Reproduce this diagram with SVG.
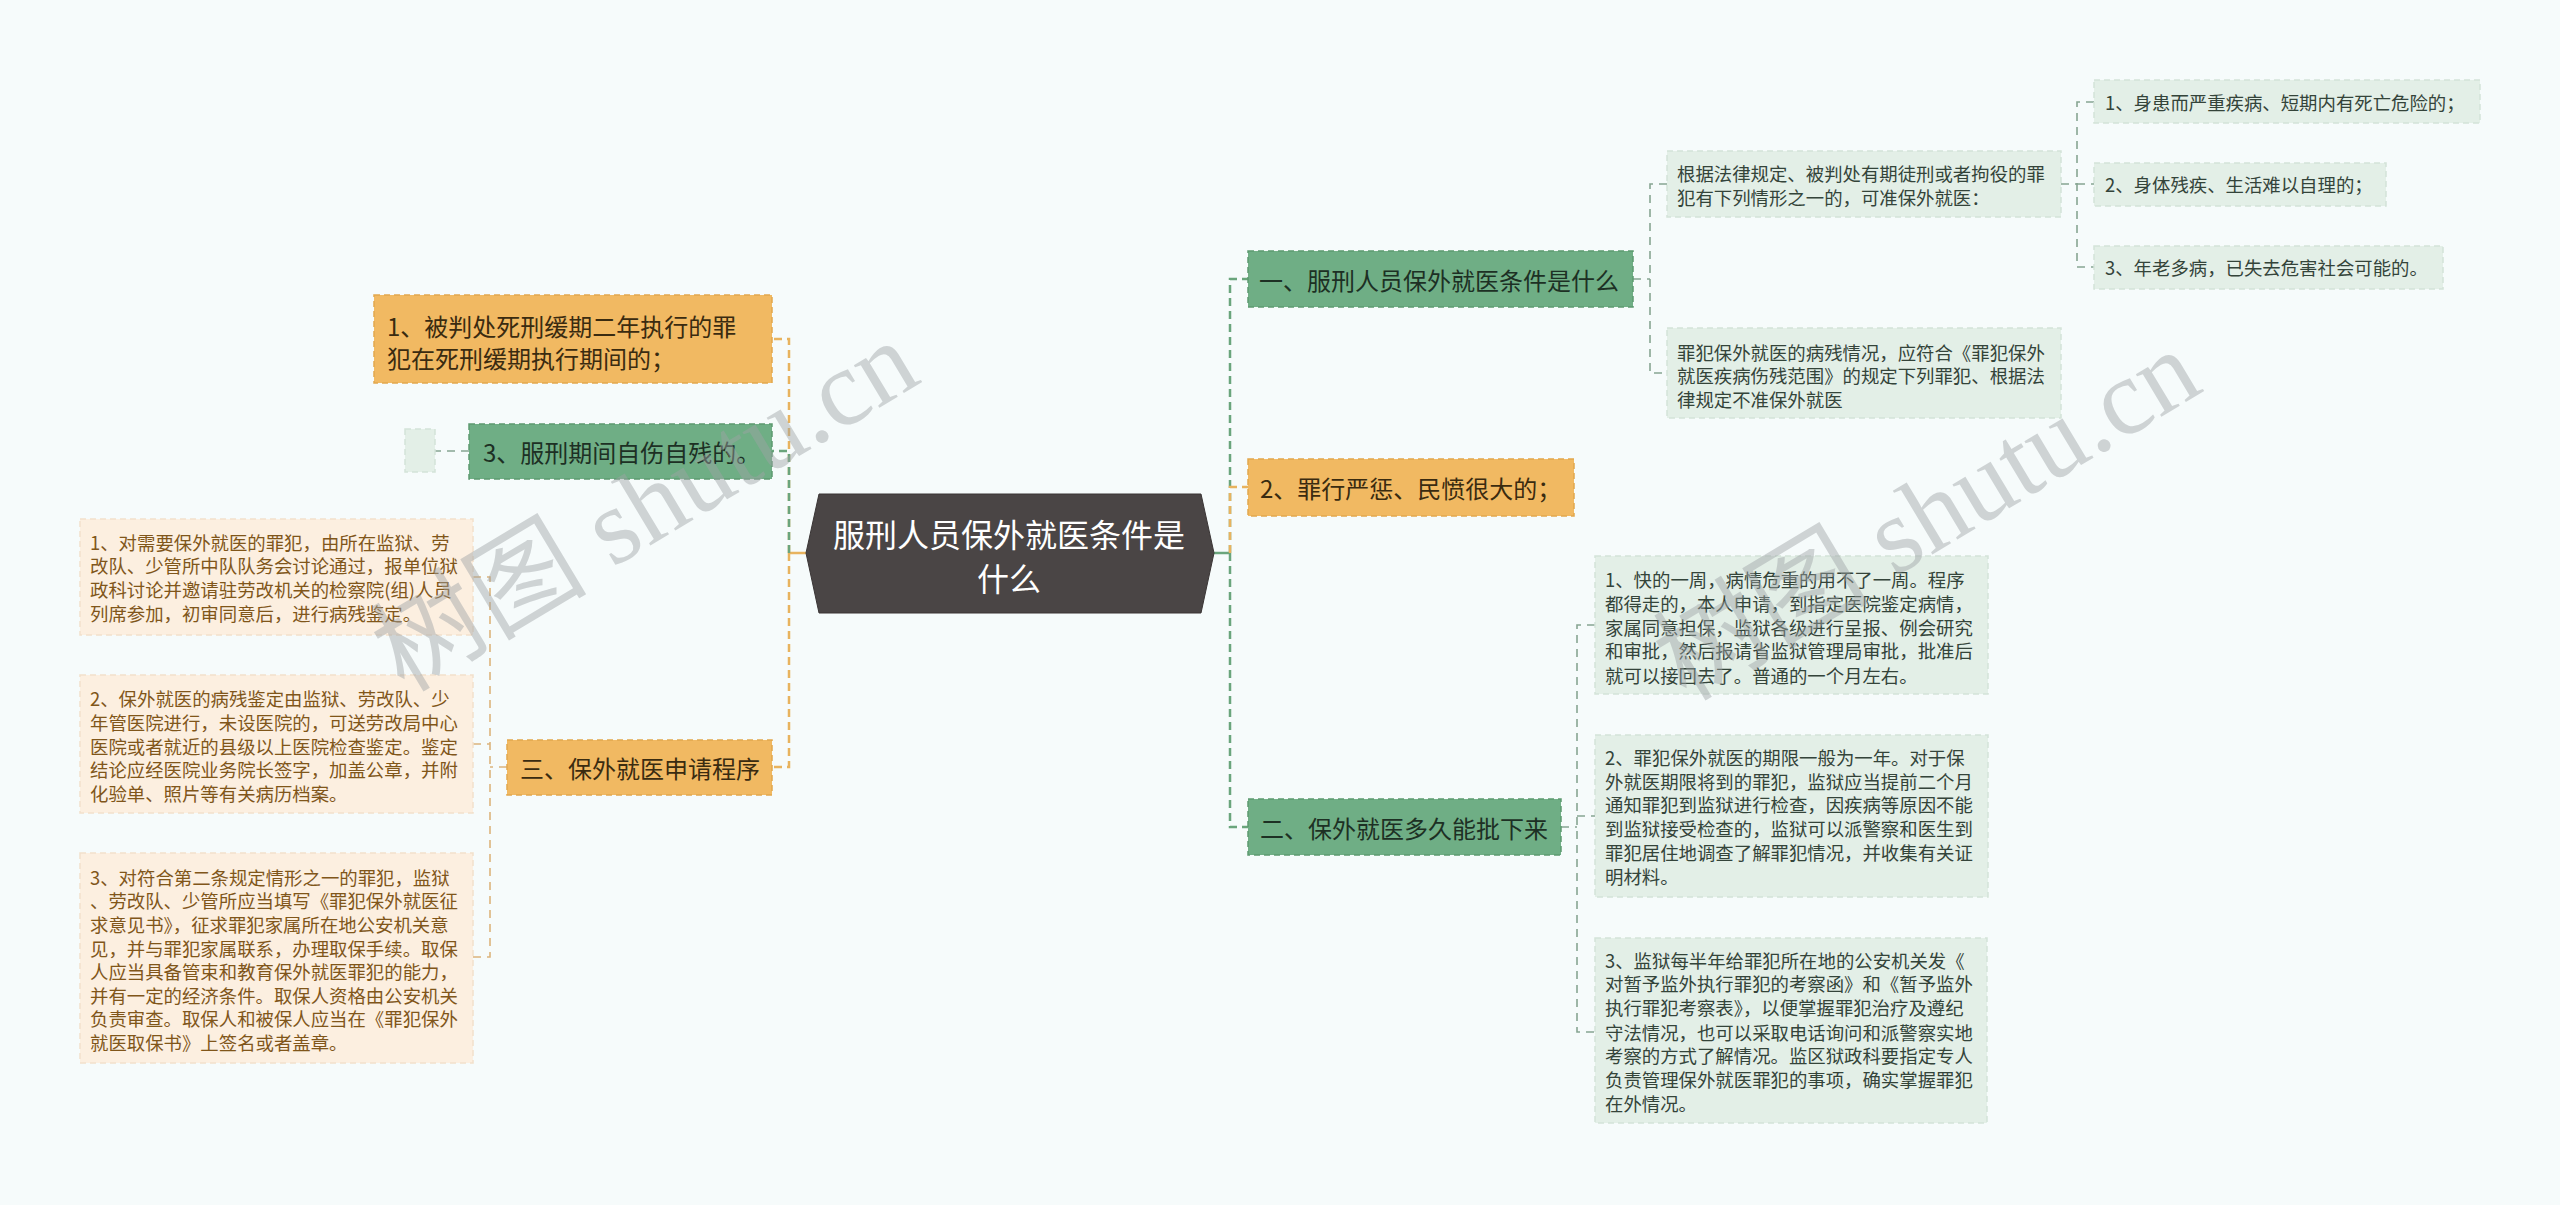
<svg xmlns="http://www.w3.org/2000/svg" width="2560" height="1205" viewBox="0 0 2560 1205">
<style>
text{font-family:"Noto Sans CJK SC","Noto Sans",sans-serif;dominant-baseline:central}
.root{fill:#fff;font-size:32px}
.m{font-size:24px}
.mo{fill:#3a2b10}
.mg{fill:#1d3024}
.ob{fill:#f1b962;stroke:#e2a84e;stroke-width:1.5;stroke-dasharray:6 4}
.gb{fill:#6fae85;stroke:#5d9a70;stroke-width:1.5;stroke-dasharray:6 4}
.lo{fill:#fcefe0;stroke:#f2e1cb;stroke-width:1.5;stroke-dasharray:6 4}
.lg{fill:#e3efe7;stroke:#d4e4d9;stroke-width:1.5;stroke-dasharray:6 4}
.to{fill:#80561a;font-size:18.4px}
.tg{fill:#34443a;font-size:18.4px}
.c1o{fill:none;stroke:#e8b35e;stroke-width:2.5;stroke-dasharray:8 5}
.c1g{fill:none;stroke:#6aa57c;stroke-width:2.5;stroke-dasharray:8 5}
.c2o{fill:none;stroke:#dcb47c;stroke-width:1.6;stroke-dasharray:8 6}
.c2g{fill:none;stroke:#87a592;stroke-width:1.6;stroke-dasharray:8 6}
.wm{font-family:"Liberation Serif","Noto Sans CJK SC",serif;font-size:108px;fill:#9ea3a6;opacity:0.45}
</style>
<rect x="0" y="0" width="2560" height="1205" fill="#f6fbfb"/>
<g id="connectors">
<line x1="806" y1="553" x2="789" y2="553" stroke="#e8b35e" stroke-width="2.5"/>
<line x1="1214" y1="553" x2="1230" y2="553" stroke="#6aa57c" stroke-width="2.5"/>
<path class="c1o" d="M789 553 V339 H772"/>
<path class="c1o" d="M789 553 V767 H772"/>
<path class="c1g" d="M789 553 V451 H772"/>
<path class="c1g" d="M1230 553 V279 H1248"/>
<path class="c1o" d="M1230 553 V487 H1248"/>
<path class="c1g" d="M1230 553 V827 H1248"/>
<path class="c2g" d="M469 451 H435"/>
<path class="c2o" d="M507 767 H490 M473 577 H490 V957 H473 M473 744 H490"/>
<path class="c2g" d="M1633 279 H1650 M1667 184 H1650 V373 H1667"/>
<path class="c2g" d="M2061 184 H2077 M2094 102 H2077 V267 H2094 M2077 184 H2094"/>
<path class="c2g" d="M1561 827 H1577 M1595 625 H1577 V1032 H1595 M1577 816 H1595"/>
</g>
<g id="root">
<polygon points="819,494 1201,494 1214,553 1201,613 819,613 806,553" fill="#4a4545" stroke="#3a3535" stroke-width="1"/>
<text class="root" x="1009" y="533" text-anchor="middle">服刑人员保外就医条件是</text>
<text class="root" x="1009" y="577" text-anchor="middle">什么</text>
</g>
<g id="n-left1">
<rect class="ob" x="374" y="295" width="398" height="88"/>
<text class="m mo" x="387" y="325">1、被判处死刑缓期二年执行的罪</text>
<text class="m mo" x="387" y="357">犯在死刑缓期执行期间的；</text>
</g>
<g id="n-left3">
<rect class="gb" x="469" y="424" width="303" height="55"/>
<text class="m mg" x="483" y="451">3、服刑期间自伤自残的。</text>
</g>
<g id="n-left3-empty">
<rect class="lg" x="405" y="429" width="30" height="43"/>
</g>
<g id="n-san">
<rect class="ob" x="507" y="740" width="265" height="55"/>
<text class="m mo" x="520" y="767">三、保外就医申请程序</text>
</g>
<g id="n-san-1">
<rect class="lo" x="80" y="519" width="393" height="116"/>
<text class="to" x="90" y="542">1、对需要保外就医的罪犯，由所在监狱、劳</text>
<text class="to" x="90" y="565">改队、少管所中队队务会讨论通过，报单位狱</text>
<text class="to" x="90" y="589">政科讨论并邀请驻劳改机关的检察院(组)人员</text>
<text class="to" x="90" y="613">列席参加，初审同意后，进行病残鉴定。</text>
</g>
<g id="n-san-2">
<rect class="lo" x="80" y="675" width="393" height="138"/>
<text class="to" x="90" y="698">2、保外就医的病残鉴定由监狱、劳改队、少</text>
<text class="to" x="90" y="722">年管医院进行，未设医院的，可送劳改局中心</text>
<text class="to" x="90" y="746">医院或者就近的县级以上医院检查鉴定。鉴定</text>
<text class="to" x="90" y="769">结论应经医院业务院长签字，加盖公章，并附</text>
<text class="to" x="90" y="793">化验单、照片等有关病历档案。</text>
</g>
<g id="n-san-3">
<rect class="lo" x="80" y="853" width="393" height="210"/>
<text class="to" x="90" y="877">3、对符合第二条规定情形之一的罪犯，监狱</text>
<text class="to" x="90" y="900">、劳改队、少管所应当填写《罪犯保外就医征</text>
<text class="to" x="90" y="924">求意见书》，征求罪犯家属所在地公安机关意</text>
<text class="to" x="90" y="948">见，并与罪犯家属联系，办理取保手续。取保</text>
<text class="to" x="90" y="971">人应当具备管束和教育保外就医罪犯的能力，</text>
<text class="to" x="90" y="995">并有一定的经济条件。取保人资格由公安机关</text>
<text class="to" x="90" y="1018">负责审查。取保人和被保人应当在《罪犯保外</text>
<text class="to" x="90" y="1042">就医取保书》上签名或者盖章。</text>
</g>
<g id="n-yi">
<rect class="gb" x="1248" y="251" width="385" height="56"/>
<text class="m mg" x="1259" y="279">一、服刑人员保外就医条件是什么</text>
</g>
<g id="n-right2">
<rect class="ob" x="1248" y="459" width="326" height="57"/>
<text class="m mo" x="1260" y="487">2、罪行严惩、民愤很大的；</text>
</g>
<g id="n-er">
<rect class="gb" x="1248" y="799" width="313" height="56"/>
<text class="m mg" x="1260" y="827">二、保外就医多久能批下来</text>
</g>
<g id="n-yi-1">
<rect class="lg" x="1667" y="151" width="394" height="66"/>
<text class="tg" x="1677" y="173">根据法律规定、被判处有期徒刑或者拘役的罪</text>
<text class="tg" x="1677" y="197">犯有下列情形之一的，可准保外就医：</text>
</g>
<g id="n-yi-2">
<rect class="lg" x="1667" y="328" width="394" height="90"/>
<text class="tg" x="1677" y="352">罪犯保外就医的病残情况，应符合《罪犯保外</text>
<text class="tg" x="1677" y="375">就医疾病伤残范围》的规定下列罪犯、根据法</text>
<text class="tg" x="1677" y="399">律规定不准保外就医</text>
</g>
<g id="n-c1">
<rect class="lg" x="2094" y="80" width="386" height="43"/>
<text class="tg" x="2105" y="102">1、身患而严重疾病、短期内有死亡危险的；</text>
</g>
<g id="n-c2">
<rect class="lg" x="2094" y="163" width="292" height="43"/>
<text class="tg" x="2105" y="184">2、身体残疾、生活难以自理的；</text>
</g>
<g id="n-c3">
<rect class="lg" x="2094" y="246" width="349" height="43"/>
<text class="tg" x="2105" y="267">3、年老多病，已失去危害社会可能的。</text>
</g>
<g id="n-er-1">
<rect class="lg" x="1595" y="556" width="393" height="138"/>
<text class="tg" x="1605" y="579">1、快的一周，病情危重的用不了一周。程序</text>
<text class="tg" x="1605" y="603">都得走的，本人申请，到指定医院鉴定病情，</text>
<text class="tg" x="1605" y="627">家属同意担保，监狱各级进行呈报、例会研究</text>
<text class="tg" x="1605" y="650">和审批，然后报请省监狱管理局审批，批准后</text>
<text class="tg" x="1605" y="675">就可以接回去了。普通的一个月左右。</text>
</g>
<g id="n-er-2">
<rect class="lg" x="1595" y="735" width="393" height="162"/>
<text class="tg" x="1605" y="757">2、罪犯保外就医的期限一般为一年。对于保</text>
<text class="tg" x="1605" y="781">外就医期限将到的罪犯，监狱应当提前二个月</text>
<text class="tg" x="1605" y="804">通知罪犯到监狱进行检查，因疾病等原因不能</text>
<text class="tg" x="1605" y="828">到监狱接受检查的，监狱可以派警察和医生到</text>
<text class="tg" x="1605" y="852">罪犯居住地调查了解罪犯情况，并收集有关证</text>
<text class="tg" x="1605" y="876">明材料。</text>
</g>
<g id="n-er-3">
<rect class="lg" x="1595" y="938" width="392" height="185"/>
<text class="tg" x="1605" y="960">3、监狱每半年给罪犯所在地的公安机关发《</text>
<text class="tg" x="1605" y="983">对暂予监外执行罪犯的考察函》和《暂予监外</text>
<text class="tg" x="1605" y="1007">执行罪犯考察表》，以便掌握罪犯治疗及遵纪</text>
<text class="tg" x="1605" y="1032">守法情况，也可以采取电话询问和派警察实地</text>
<text class="tg" x="1605" y="1055">考察的方式了解情况。监区狱政科要指定专人</text>
<text class="tg" x="1605" y="1079">负责管理保外就医罪犯的事项，确实掌握罪犯</text>
<text class="tg" x="1605" y="1103">在外情况。</text>
</g>
<g id="watermark">
<text class="wm" x="645" y="506" text-anchor="middle" transform="rotate(-31 645 506)">树图 shutu.cn</text>
<text class="wm" x="1927" y="515" text-anchor="middle" transform="rotate(-31 1927 515)">树图 shutu.cn</text>
</g>
</svg>
